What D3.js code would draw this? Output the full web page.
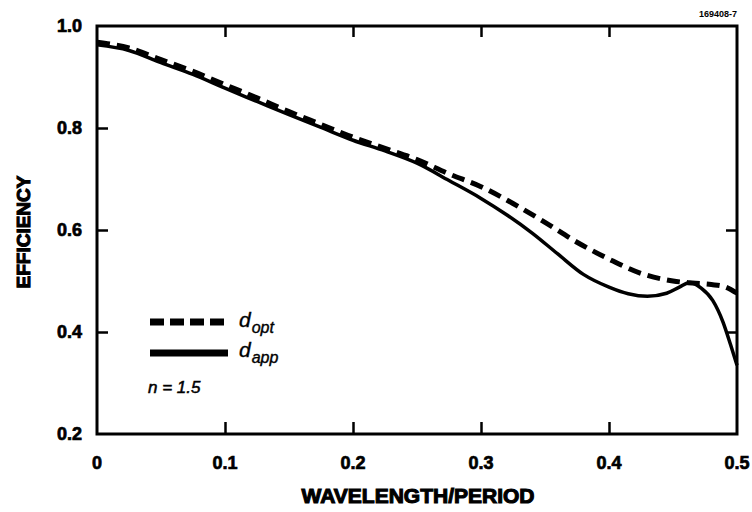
<!DOCTYPE html>
<html><head><meta charset="utf-8">
<script src="https://cdn.jsdelivr.net/npm/d3@7"></script>
<style>body{margin:0;background:#fff}svg{display:block}</style>
</head><body>
<svg id="c" width="752" height="512"></svg>
<script>
const xTicks = [0, 0.1, 0.2, 0.3, 0.4, 0.5];
const xTickLabels = ["0", "0.1", "0.2", "0.3", "0.4", "0.5"];
const yTicks = [0.2, 0.4, 0.6, 0.8, 1.0];
const yTickLabels = ["0.2", "0.4", "0.6", "0.8", "1.0"];

const optX = [0, 0.025, 0.05, 0.075, 0.1, 0.125, 0.15, 0.175, 0.2, 0.225, 0.25, 0.275, 0.3, 0.325, 0.35, 0.375, 0.4, 0.425, 0.45, 0.465, 0.48, 0.49, 0.5];
const optY = [0.968, 0.957, 0.934, 0.911, 0.885, 0.859, 0.832, 0.807, 0.782, 0.760, 0.738, 0.710, 0.685, 0.652, 0.615, 0.576, 0.543, 0.515, 0.500, 0.496, 0.493, 0.489, 0.476];

const appX = [0, 0.025, 0.05, 0.075, 0.1, 0.125, 0.15, 0.175, 0.2, 0.225, 0.25, 0.275, 0.3, 0.32, 0.34, 0.36, 0.38, 0.4, 0.415, 0.43, 0.445, 0.455, 0.463, 0.472, 0.481, 0.489, 0.495, 0.5];
const appY = [0.963, 0.952, 0.928, 0.905, 0.878, 0.852, 0.826, 0.801, 0.776, 0.755, 0.731, 0.697, 0.662, 0.630, 0.594, 0.553, 0.513, 0.488, 0.475, 0.470, 0.476, 0.488, 0.497, 0.486, 0.462, 0.420, 0.375, 0.335];

const svg = d3.select("#c");
const x = d3.scaleLinear().domain([0, 0.5]).range([97, 737]);
const y = d3.scaleLinear().domain([0.2, 1.0]).range([434, 26]);
const font = "'Liberation Sans', Arial, sans-serif";

// frame
svg.append("rect").attr("x", x(0)).attr("y", y(1)).attr("width", x(0.5) - x(0)).attr("height", y(0.2) - y(1))
  .attr("fill", "none").attr("stroke", "#000").attr("stroke-width", 3);

// ticks
const inner = [0.1, 0.2, 0.3, 0.4];
const gB = svg.append("g").attr("transform", `translate(0,${y(0.2)})`)
  .call(d3.axisTop(x).tickValues(inner).tickSize(12).tickFormat(""));
const gT = svg.append("g").attr("transform", `translate(0,${y(1)})`)
  .call(d3.axisBottom(x).tickValues(inner).tickSize(11).tickFormat(""));
const innerY = [0.4, 0.6, 0.8];
const gL = svg.append("g").attr("transform", `translate(${x(0)},0)`)
  .call(d3.axisRight(y).tickValues(innerY).tickSize(11).tickFormat(""));
const gR = svg.append("g").attr("transform", `translate(${x(0.5)},0)`)
  .call(d3.axisLeft(y).tickValues([0.4, 0.6]).tickSize(11).tickFormat(""));
[gB, gT, gL, gR].forEach(g => {
  g.select(".domain").remove();
  g.selectAll("line").attr("stroke", "#000").attr("stroke-width", 2.5);
});

// tick labels
svg.append("g").selectAll("text").data(xTicks).join("text")
  .attr("x", d => x(d)).attr("y", 469).attr("text-anchor", "middle")
  .attr("font-family", font).attr("font-weight", "bold").attr("font-size", 18)
  .attr("stroke", "#000").attr("stroke-width", 0.7)
  .text((d, i) => xTickLabels[i]);
svg.append("g").selectAll("text").data(yTicks).join("text")
  .attr("x", 82).attr("y", d => y(d) + 6).attr("text-anchor", "end")
  .attr("font-family", font).attr("font-weight", "bold").attr("font-size", 18)
  .attr("stroke", "#000").attr("stroke-width", 0.7)
  .text((d, i) => yTickLabels[i]);

// axis titles
svg.append("text").attr("x", 418).attr("y", 503).attr("text-anchor", "middle")
  .attr("font-family", font).attr("font-weight", "bold").attr("font-size", 21)
  .attr("stroke", "#000").attr("stroke-width", 1.1)
  .text("WAVELENGTH/PERIOD");
svg.append("text").attr("transform", "translate(30,232) rotate(-90)").attr("text-anchor", "middle")
  .attr("font-family", font).attr("font-weight", "bold").attr("font-size", 19)
  .attr("stroke", "#000").attr("stroke-width", 1.1)
  .text("EFFICIENCY");
svg.append("text").attr("x", 737).attr("y", 17).attr("text-anchor", "end")
  .attr("font-family", font).attr("font-weight", "bold").attr("font-size", 9)
  .text("169408-7");

// curves
const line = d3.line().x(d => x(d[0])).y(d => y(d[1])).curve(d3.curveMonotoneX);
const optData = optX.map((v, i) => [v, optY[i]]);
const appData = appX.map((v, i) => [v, appY[i]]);
svg.append("path").datum(appData).attr("d", line)
  .attr("fill", "none").attr("stroke", "#000").attr("stroke-width", 3.5);
svg.append("path").datum(optData).attr("d", line)
  .attr("fill", "none").attr("stroke", "#000").attr("stroke-width", 5)
  .attr("stroke-dasharray", "13,7");

// legend
svg.append("line").attr("x1", 150).attr("x2", 228).attr("y1", 322).attr("y2", 322)
  .attr("stroke", "#000").attr("stroke-width", 7).attr("stroke-dasharray", "14,6").attr("stroke-linecap", "butt");
svg.append("line").attr("x1", 150).attr("x2", 228).attr("y1", 353).attr("y2", 353)
  .attr("stroke", "#000").attr("stroke-width", 7);
function legText(yy, sub) {
  const t = svg.append("text").attr("x", 239).attr("y", yy)
    .attr("font-family", font).attr("font-style", "italic").attr("font-size", 21)
    .attr("stroke", "#000").attr("stroke-width", 0.4);
  t.append("tspan").text("d");
  t.append("tspan").attr("dy", 6).attr("font-size", 16).attr("dx", 1).text(sub);
}
legText(327, "opt");
legText(357, "app");
svg.append("text").attr("x", 148).attr("y", 393)
  .attr("font-family", font).attr("font-style", "italic").attr("font-size", 17)
  .attr("stroke", "#000").attr("stroke-width", 0.5)
  .text("n = 1.5");
</script>
</body></html>
